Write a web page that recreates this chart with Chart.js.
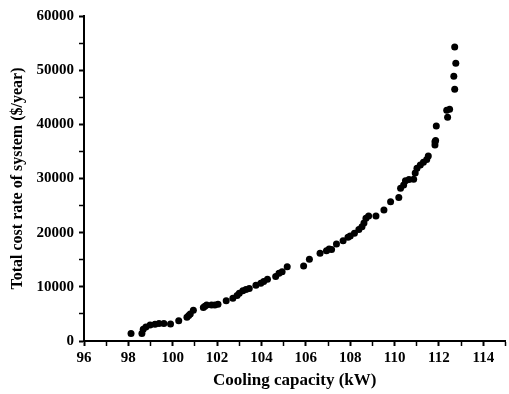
<!DOCTYPE html>
<html>
<head>
<meta charset="utf-8">
<script src="https://cdn.jsdelivr.net/npm/chart.js@4"></script>
<style>
  html, body { margin: 0; padding: 0; background: #fff; }
  #wrap { width: 509px; height: 394px; }
</style>
</head>
<body>
<div id="wrap"><canvas id="costChart"></canvas></div>
<script>
// Cooling capacity (kW) vs total cost rate ($/year)
const capacity = [
    98.12, 98.61, 98.67, 98.79, 98.98, 99.2, 99.38, 99.6, 99.9, 100.27,
    100.64, 100.72, 100.79, 100.93, 101.38, 101.45, 101.53, 101.75, 101.9, 102.04,
    102.41, 102.71, 102.9, 103.0, 103.16, 103.3, 103.45, 103.75, 103.97, 104.1,
    104.27, 104.64, 104.79, 104.93, 105.16, 105.9, 106.16, 106.64, 106.93, 107.05,
    107.16, 107.38, 107.68, 107.9, 108.0, 108.19, 108.39, 108.53, 108.62, 108.71,
    108.83, 109.16, 109.52, 109.82, 110.19, 110.27, 110.41, 110.49, 110.65, 110.86,
    110.93, 111.01, 111.16, 111.3, 111.45, 111.52, 111.82, 111.82, 111.85, 111.88,
    112.35, 112.39, 112.48, 112.71, 112.67, 112.76, 112.71
];
const costRate = [
    1400, 1400, 2150, 2600, 2950, 3100, 3250, 3250, 3150, 3750,
    4400, 4700, 5000, 5700, 6200, 6400, 6650, 6650, 6650, 6800,
    7450, 7900, 8400, 8800, 9300, 9500, 9700, 10300, 10650, 11000,
    11400, 11900, 12500, 12800, 13700, 13850, 15100, 16200, 16650, 17000,
    16900, 17900, 18500, 19150, 19400, 19900, 20600, 21100, 21800, 22650,
    23100, 23100, 24200, 25700, 26500, 28200, 28800, 29600, 29800, 29850,
    31000, 31900, 32500, 33000, 33500, 34150, 36200, 36800, 37000, 39700,
    42600, 41300, 42800, 46500, 48900, 51300, 54300
];
const xRange = [96, 115];
const yRange = [0, 60000];

const points = capacity.map((x, i) => ({ x: x, y: costRate[i] }));

const serif = 'Liberation Serif, Times New Roman, serif';

new Chart(document.getElementById('costChart'), {
    type: 'scatter',
    data: {
        datasets: [{
            data: points,
            backgroundColor: '#000',
            borderWidth: 0,
            pointRadius: 3.5,
            pointHoverRadius: 3.5
        }]
    },
    options: {
        responsive: true,
        maintainAspectRatio: false,
        animation: false,
        layout: { padding: { top: 16, right: 1, left: 0, bottom: 0 } },
        plugins: {
            legend: { display: false },
            tooltip: { enabled: false }
        },
        scales: {
            x: {
                type: 'linear',
                min: xRange[0],
                max: xRange[1],
                border: { display: true, color: '#000', width: 2 },
                grid: {
                    drawOnChartArea: false, drawTicks: true, tickLength: 5, tickColor: '#000',
                    tickWidth: c => (c.tick && c.tick.value % 2 === 0 ? 2 : 1.5)
                },
                ticks: {
                    stepSize: 1,
                    includeBounds: false,
                    autoSkip: false,
                    maxRotation: 0,
                    padding: 3,
                    color: '#000',
                    font: { family: serif, size: 15, weight: 'bold' },
                    callback: v => (v % 2 === 0 ? v : '')
                },
                title: {
                    display: true,
                    text: 'Cooling capacity (kW)',
                    color: '#000',
                    font: { family: serif, size: 17, weight: 'bold' },
                    padding: { top: 0, bottom: 3 }
                },
                afterFit: s => { s.height = 53; }
            },
            y: {
                type: 'linear',
                min: yRange[0],
                max: yRange[1],
                border: { display: true, color: '#000', width: 2 },
                grid: {
                    drawOnChartArea: false, drawTicks: true, tickLength: 5, tickColor: '#000',
                    tickWidth: c => (c.tick && c.tick.value % 10000 === 0 ? 2 : 1.5)
                },
                ticks: {
                    stepSize: 5000,
                    autoSkip: false,
                    padding: 5,
                    color: '#000',
                    font: { family: serif, size: 15, weight: 'bold' },
                    callback: v => (v % 10000 === 0 ? v : '')
                },
                title: {
                    display: true,
                    text: 'Total cost rate of system ($/year)',
                    color: '#000',
                    font: { family: serif, size: 16, weight: 'bold' },
                    padding: { top: 8, bottom: 0 }
                },
                afterFit: s => { s.width = 84; }
            }
        }
    }
});
</script>
</body>
</html>
